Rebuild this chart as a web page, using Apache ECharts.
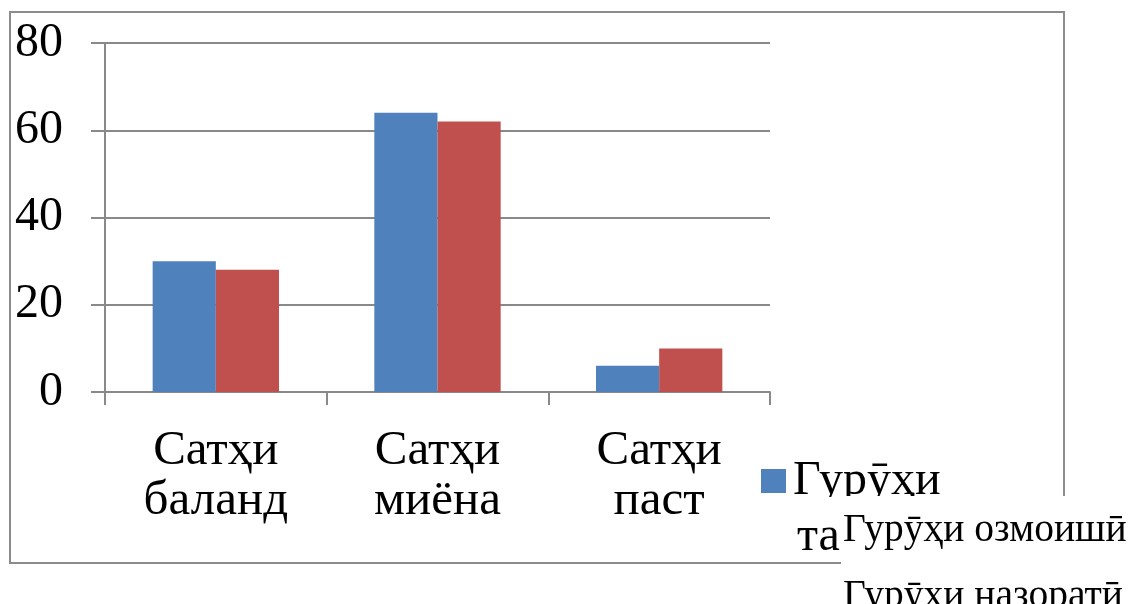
<!DOCTYPE html>
<html><head><meta charset="utf-8">
<script src="https://cdn.jsdelivr.net/npm/echarts@6/dist/echarts.min.js"></script>
<style>html,body{margin:0;padding:0;background:#fff}#c{width:1130px;height:604px}</style>
</head><body><div id="c"></div>
<script>
const categories = ['Сатҳи\nбаланд', 'Сатҳи\nмиёна', 'Сатҳи\nпаст'];
const seriesNames = ['Гурӯҳи озмоишӣ', 'Гурӯҳи назоратӣ'];
const experimental = [30, 64, 6];
const control = [28, 62, 10];
const yTicks = { min: 0, max: 80, interval: 20 };

const FONT = 'Liberation Serif';
const GRAY = '#898989';
const chart = echarts.init(document.getElementById('c'));
chart.setOption({
  animation: false,
  textStyle: { fontFamily: FONT },
  grid: { left: 105, right: 360, top: 43, bottom: 212, containLabel: false },
  xAxis: {
    type: 'category', data: categories,
    axisLine: { lineStyle: { color: GRAY, width: 2 } },
    axisTick: { show: true, length: 13, lineStyle: { color: GRAY, width: 2 } },
    axisLabel: { color: '#000', fontSize: 49, fontFamily: FONT, lineHeight: 50, margin: 34,
      interval: 0, hideOverlap: false }
  },
  yAxis: {
    type: 'value', min: yTicks.min, max: yTicks.max, interval: yTicks.interval,
    axisLine: { show: true, lineStyle: { color: GRAY, width: 2 } },
    axisTick: { show: true, length: 14, lineStyle: { color: GRAY, width: 2 } },
    splitLine: { lineStyle: { color: GRAY, width: 2 } },
    axisLabel: { color: '#000', fontSize: 48, fontFamily: FONT, margin: 42 }
  },
  legend: {
    data: [seriesNames[0]], orient: 'vertical', left: 761, top: 457,
    padding: 0, itemWidth: 25, itemHeight: 24, itemGap: 0,
    icon: 'rect',
    formatter: () => 'Гурӯҳи',
    textStyle: { fontSize: 48, fontFamily: FONT, color: '#000', padding: [0, 0, 0, 2] }
  },
  series: [
    { name: seriesNames[0], type: 'bar', data: experimental, barGap: '0%', barCategoryGap: '43%',
      itemStyle: { color: '#4F81BD' } },
    { name: seriesNames[1], type: 'bar', data: control, barGap: '0%', barCategoryGap: '43%',
      itemStyle: { color: '#C0504D' } }
  ],
  graphic: [
    { type: 'rect', z: -10, shape: { x: 10, y: 12, width: 1054, height: 551 },
      style: { fill: 'none', stroke: '#8c8c8c', lineWidth: 2 } },
    { type: 'rect', z: 100, shape: { x: 841, y: 496, width: 300, height: 120 },
      style: { fill: '#fff' } },
    { type: 'rect', z: 100, shape: { x: 790, y: 497, width: 52, height: 22 },
      style: { fill: '#fff' } },
    { type: 'text', z: 101, left: 797, top: 513,
      style: { text: 'та', font: '48px ' + FONT, fill: '#000' } },
    { type: 'text', z: 101, left: 843, top: 511,
      style: { text: seriesNames[0], font: '39.5px ' + FONT, fill: '#000' } },
    { type: 'text', z: 101, left: 843, top: 577,
      style: { text: seriesNames[1], font: '39.5px ' + FONT, fill: '#000' } }
  ]
});
</script></body></html>
